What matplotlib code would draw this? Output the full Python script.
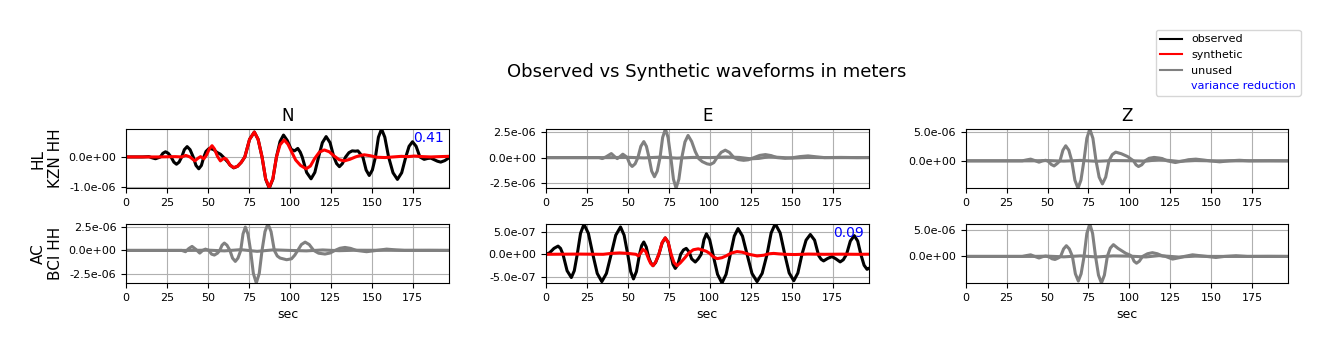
import matplotlib
matplotlib.use('Agg')
import matplotlib.pyplot as plt
from matplotlib.lines import Line2D
from matplotlib.ticker import FormatStrFormatter
import numpy as np

# waveforms: (time [s], displacement [1e-6 m])
kzn_n_obs = [(0, 0), (10, 0), (14, 0.01), (16, -0.03), (18, -0.06), (20, -0.02), (21, 0),
             (22.5, 0.12), (24.1, 0.17), (25.8, 0.12), (27.5, 0), (29.2, -0.17), (30.8, -0.24),
             (32.4, -0.17), (34, 0), (35.6, 0.24), (37.3, 0.34), (39.1, 0.24), (41, 0),
             (42.7, -0.28), (44.4, -0.39), (46, -0.28), (47.5, 0), (48.8, 0.18), (50.5, 0.27),
             (52, 0.27), (53.5, 0.24), (55.5, 0.15), (57.6, 0.09), (59.3, 0), (60.6, -0.08),
             (62, -0.16), (63.5, -0.27), (65.7, -0.36), (68, -0.31), (70.3, -0.18), (72.5, 0),
             (75.4, 0.58), (78.3, 0.82), (80.6, 0.58), (83, 0), (85.2, -0.73), (87.4, -1.03),
             (89.6, -0.73), (91.8, 0), (94, 0.51), (96.1, 0.72), (98.3, 0.55), (100.8, 0.25),
             (102.8, 0.2), (104.8, 0.28), (106.3, 0.16), (107.5, 0), (110.2, -0.51),
             (112.9, -0.72), (115.2, -0.51), (117.5, 0), (119.8, 0.47), (122.1, 0.67),
             (124.5, 0.47), (126.8, 0), (128.5, -0.22), (130.2, -0.32), (132, -0.22), (134, 0),
             (136, 0.14), (138, 0.2), (140, 0.19), (141.5, 0.2), (143, 0.1), (144.5, 0),
             (146.5, -0.43), (148.4, -0.61), (150.3, -0.43), (152.2, 0), (154, 0.65),
             (155.9, 0.92), (157.9, 0.65), (160.2, 0), (162.9, -0.52), (165.6, -0.74),
             (168.2, -0.52), (170.7, 0), (172.7, 0.35), (174.8, 0.5), (177, 0.35), (179.3, 0),
             (181.9, -0.08), (184, -0.05), (186, -0.04), (188, -0.09), (190, -0.14),
             (192, -0.17), (194.5, -0.12), (197, -0.03)]
kzn_n_syn = [(0, 0), (20, 0), (30, 0.01), (34, 0), (36.5, 0.05), (39, 0), (42, -0.13),
             (44, -0.04), (45.5, 0.01), (47.5, -0.06), (49, 0.05), (50.8, 0.26), (52.5, 0.37),
             (54, 0.26), (55.8, 0.02), (57.6, -0.13), (59, -0.07), (60.2, -0.04), (61.5, -0.09),
             (63.5, -0.27), (65.7, -0.35), (68, -0.31), (70.3, -0.18), (72.5, 0), (75.4, 0.58),
             (78.3, 0.82), (80.6, 0.58), (83, 0), (85.2, -0.72), (87.4, -1.0), (89.6, -0.72),
             (91.8, 0), (94, 0.4), (96.5, 0.56), (98.8, 0.42), (101.5, 0.12), (103.5, -0.1),
             (106.5, -0.28), (109.9, -0.39), (112.5, -0.3), (115, -0.06), (118, 0.16),
             (121, 0.23), (124, 0.17), (127, 0.03), (130, -0.09), (133.2, -0.13),
             (136.5, -0.08), (140, 0), (143, 0.05), (145.4, 0.07), (149, 0.04), (153, -0.01),
             (158, -0.02), (163, 0), (168, 0.02), (172, 0.01), (176, 0.03), (181, 0.01),
             (186, 0), (191, 0.01), (197, 0.02)]

kzn_e_obs = [(0, 0), (30, 0), (32.5, 0), (34.5, -0.1), (37, 0.1), (40, 0.4), (42, 0.1),
             (43.6, -0.1), (45.3, 0.1), (47, 0.34), (48.6, 0.15), (49.7, 0), (51.2, -0.62),
             (52.7, -0.88), (54.5, -0.62), (56.2, 0), (58, 1.12), (59.8, 1.59), (61.4, 1.12),
             (63, 0), (64.6, -1.34), (66.3, -1.9), (68, -1.34), (69.7, 0), (71.3, 2.0),
             (73, 2.84), (74.6, 2.0), (76.3, 0), (77.9, -2.15), (79.5, -3.04), (81.2, -2.15),
             (83, 0), (84.9, 1.55), (86.8, 2.2), (89, 1.6), (91.2, 0.6), (93.3, -0.1),
             (95.5, -0.4), (98.4, -0.62), (100.4, -0.68), (102.5, -0.5), (104.5, 0),
             (107, 0.52), (109.5, 0.74), (112, 0.52), (114.8, 0), (117.5, -0.2),
             (120.7, -0.27), (123.5, -0.22), (127, 0), (130.5, 0.22), (134, 0.3), (137.5, 0.2),
             (141, 0), (146, -0.07), (151, 0), (155, 0.1), (160, 0.17), (165, 0.08), (170, 0),
             (180, 0.02), (190, 0), (197, 0.01)]
kzn_e_syn = [(0, 0), (40, 0), (50, 0.03), (60, -0.03), (70, 0.05), (80, -0.05), (90, 0.02),
             (100, 0), (110, 0.06), (118, 0.02), (125, -0.12), (130, -0.08), (136, 0.08),
             (142, 0.03), (150, -0.05), (160, 0.02), (170, 0), (197, 0)]

kzn_z_obs = [(0, 0), (34.6, 0), (37, 0.15), (39.7, 0.3), (42.2, 0.05), (44.8, -0.24), (47, 0),
             (48.9, 0.1), (50.5, -0.1), (52.3, -0.64), (54, -0.9), (55.8, -0.5), (57.6, 0),
             (59.4, 1.87), (61.1, 2.65), (63, 1.87), (64.8, 0), (66.7, -3.4), (68.6, -4.82),
             (70.4, -3.4), (72.2, 0), (74, 3.96), (75.8, 5.6), (77.7, 3.96), (79.6, 0),
             (81.5, -2.87), (83.5, -4.06), (85.5, -2.87), (87.5, 0), (89.5, 1.1), (91.6, 1.53),
             (95, 1.25), (98.8, 0.76), (101, 0.3), (102.5, 0), (104, -0.7), (105.5, -1.0),
             (107.5, -0.7), (109.5, 0), (112, 0.45), (115, 0.6), (118, 0.5), (120, 0.4),
             (123, 0), (128, -0.3), (133, 0), (136, 0.2), (140.5, 0.3), (145, 0.15), (149, 0),
             (155, -0.18), (161, 0), (167, 0.1), (173, 0), (185, 0.02), (197, 0)]
kzn_z_syn = [(0, 0), (40, 0), (50, 0.05), (60, -0.05), (70, 0.08), (80, -0.08), (90, 0.05),
             (100, 0.02), (110, -0.05), (118, 0.2), (125, 0.05), (130, -0.1), (140, 0.05),
             (150, 0), (197, 0)]

bci_n_obs = [(0, 0), (34, 0), (36.3, -0.14), (38.3, 0.2), (40.3, 0.43), (42.7, 0.1), (45, -0.29),
             (46.8, 0), (48.5, 0.14), (50.5, 0), (52.2, -0.4), (53.9, -0.5), (55.8, -0.3),
             (57.2, 0), (58.6, 0.56), (60, 0.79), (61.6, 0.56), (63.4, 0), (65, -0.83),
             (66.7, -1.18), (68.3, -0.83), (70, 0), (71.4, 1.77), (72.8, 2.5), (74.4, 1.77),
             (76, 0), (77.7, -2.47), (79.5, -3.5), (81.3, -2.47), (83, 0), (84.8, 2.02),
             (86.6, 2.86), (88.5, 2.02), (90.5, 0), (92.3, -0.6), (94, -0.82), (98, -1.0),
             (101, -0.9), (103, -0.5), (104.8, 0), (107, 0.63), (109.3, 0.89), (111.8, 0.63),
             (114.5, 0), (117.5, -0.3), (121.4, -0.39), (124.5, -0.28), (127.5, 0),
             (130.5, 0.23), (133.6, 0.32), (137, 0.22), (140.5, 0), (146.8, -0.14), (153, 0),
             (159, 0.14), (165, 0.05), (170, 0), (185, 0.01), (197, 0)]
bci_n_syn = [(0, 0), (40, 0), (50, 0.03), (60, -0.05), (70, 0.08), (80, -0.1), (90, 0.06),
             (100, 0), (110, -0.05), (120, 0.05), (130, -0.03), (140, 0.02), (197, 0)]

bci_e_obs = [(0, 0), (2.4, 0.035), (5, 0.13), (7.5, 0.18), (9, 0.13), (10.5, 0), (13, -0.36),
             (15.6, -0.51), (17.4, -0.36), (19.2, 0), (21.2, 0.46), (23.3, 0.66), (26, 0.46),
             (28.7, 0), (31.4, -0.42), (34.2, -0.6), (37, -0.42), (39.9, 0), (42.7, 0.42),
             (45.6, 0.6), (47.8, 0.42), (50, 0), (51.8, -0.38), (53.5, -0.54), (55.3, -0.38),
             (57.2, 0), (58.5, 0.19), (59.8, 0.27), (61.3, 0.16), (62.8, -0.07), (64, -0.18),
             (65.4, -0.25), (67, -0.18), (69, 0), (71, 0.25), (72.9, 0.36), (74.7, 0.26),
             (76.2, 0), (77.6, -0.22), (79, -0.31), (80.5, -0.23), (82.3, 0), (84, 0.095),
             (85.7, 0.13), (87.5, 0.05), (89, -0.1), (91.2, -0.17), (93, -0.1), (94.8, 0),
             (96.5, 0.32), (98, 0.45), (100, 0.32), (102, 0), (104.8, -0.44), (107.5, -0.63),
             (110, -0.44), (112.6, 0), (115, 0.4), (117.3, 0.565), (120, 0.4), (122.8, 0),
             (125.8, -0.42), (128.9, -0.6), (132, -0.42), (135, 0), (137.5, 0.47), (140, 0.67),
             (143, 0.47), (145.8, 0), (148.5, -0.41), (151.3, -0.58), (153.8, -0.41),
             (156.3, 0), (158.8, 0.31), (161.4, 0.435), (164, 0.31), (166.5, -0.03),
             (168, -0.11), (169.5, -0.145), (172, -0.09), (174.6, -0.05), (177, -0.1),
             (179.6, -0.167), (181.5, -0.12), (183.5, 0), (185.8, 0.29), (188.2, 0.41),
             (190.3, 0.29), (192.2, 0), (194.2, -0.24), (196, -0.33), (197, -0.31)]
bci_e_syn = [(0, 0), (20, 0.005), (35, 0), (40, 0.02), (45, 0.03), (50, 0.02), (55, 0),
             (56.5, -0.035), (58, 0.03), (59.2, 0.11), (61, 0.06), (62.8, -0.11), (64, -0.2),
             (65.4, -0.25), (67, -0.17), (69, 0), (71, 0.26), (72.9, 0.36), (74.7, 0.26),
             (76.5, 0), (78.2, -0.18), (80, -0.25), (82, -0.19), (85, -0.07), (87, 0.02),
             (90, 0.1), (93, 0.12), (96, 0.09), (98, 0.065), (100, 0.02), (102, -0.05),
             (104.5, -0.095), (107.5, -0.075), (110, -0.035), (113, 0.025), (116.7, 0.06),
             (120, 0.045), (124, 0), (128.9, -0.036), (133, -0.02), (136, 0.01), (139, 0.02),
             (142, 0.01), (146, 0), (152, -0.005), (160, 0.005), (170, 0), (180, 0.003),
             (190, 0), (197, 0.002)]

bci_z_obs = [(0, 0), (34.6, 0), (37, 0.15), (39.7, 0.3), (42.2, 0), (44.8, -0.3), (47, -0.05),
             (48.9, 0.06), (51, -0.1), (52.8, -0.45), (54.6, -0.57), (56.5, -0.3), (58, 0),
             (59.8, 1.4), (61.5, 2.0), (63.3, 1.4), (65.2, 0), (67, -3.25), (68.8, -4.6),
             (70.5, -3.25), (72.3, 0), (74, 4.3), (75.8, 6.1), (77.5, 4.3), (79.3, 0),
             (81.1, -3.5), (82.9, -4.97), (84.7, -3.5), (86.5, 0), (88.3, 1.55), (90.2, 2.2),
             (93, 1.5), (97.8, 0.57), (100, 0.3), (101.5, 0), (102.8, -0.9), (104.3, -1.27),
             (106, -0.9), (108, 0), (111, 0.5), (114, 0.7), (117, 0.5), (120, 0.1), (122, 0),
             (126.3, -0.5), (131, -0.2), (133.5, 0), (138.5, 0.3), (144, 0.1), (147, 0),
             (152.7, -0.2), (158, 0), (165, 0.13), (172, 0), (185, 0.02), (197, 0)]
bci_z_syn = [(0, 0), (40, 0), (50, 0.05), (60, -0.08), (70, 0.1), (80, -0.1), (90, 0.1),
             (100, 0.05), (110, -0.1), (118, 0.15), (125, 0), (130, -0.12), (140, 0.05),
             (150, 0), (197, 0)]

stations = ['HL\nKZN HH', 'AC\nBCI HH']
components = ['N', 'E', 'Z']
observed = [[kzn_n_obs, kzn_e_obs, kzn_z_obs], [bci_n_obs, bci_e_obs, bci_z_obs]]
synthetic = [[kzn_n_syn, kzn_e_syn, kzn_z_syn], [bci_n_syn, bci_e_syn, bci_z_syn]]
used = [[True, False, False], [False, True, False]]
var_red = [['0.41', None, None], [None, '0.09', None]]

fig, axes = plt.subplots(2, 3, figsize=(13.29, 3.51), dpi=100)
fig.subplots_adjust(left=0.0948, right=0.9695, top=0.6325, bottom=0.1937,
                    wspace=0.30, hspace=0.60)

for i, sta in enumerate(stations):
    for j, comp in enumerate(components):
        ax = axes[i, j]
        obs = np.array(observed[i][j])
        syn = np.array(synthetic[i][j])
        if used[i][j]:
            c_obs, c_syn = 'black', 'red'
        else:
            c_obs, c_syn = 'gray', 'gray'
        ax.plot(obs[:, 0], obs[:, 1] * 1e-6, color=c_obs, lw=2.2)
        ax.plot(syn[:, 0], syn[:, 1] * 1e-6, color=c_syn, lw=2.2)
        ax.set_xlim(0, 197)
        ax.set_ylim(obs[:, 1].min() * 1e-6, obs[:, 1].max() * 1e-6)
        ax.yaxis.set_major_formatter(FormatStrFormatter('%.1e'))
        ax.tick_params(labelsize=8)
        ax.grid(True)
        if var_red[i][j]:
            ax.text(0.985, 0.96, var_red[i][j], color='blue', fontsize=10,
                    ha='right', va='top', transform=ax.transAxes)
        if i == 0:
            ax.set_title(comp, fontsize=12)
        if i == 1:
            ax.set_xlabel('sec', fontsize=9)
        if j == 0:
            ax.set_ylabel(sta, fontsize=11)

fig.text(707 / 1329, 1 - 72 / 351, 'Observed vs Synthetic waveforms in meters',
         ha='center', va='center', fontsize=13)

handles = [Line2D([], [], color='black', label='observed'),
           Line2D([], [], color='red', label='synthetic'),
           Line2D([], [], color='gray', label='unused'),
           Line2D([], [], color='none', label='variance reduction')]
leg = fig.legend(handles=handles, loc='upper right', fontsize=8, borderaxespad=0,
                 bbox_to_anchor=(1300.5 / 1329, 1 - 30 / 351))
leg.get_texts()[3].set_color('blue')

fig.savefig('out.png', dpi=100)
